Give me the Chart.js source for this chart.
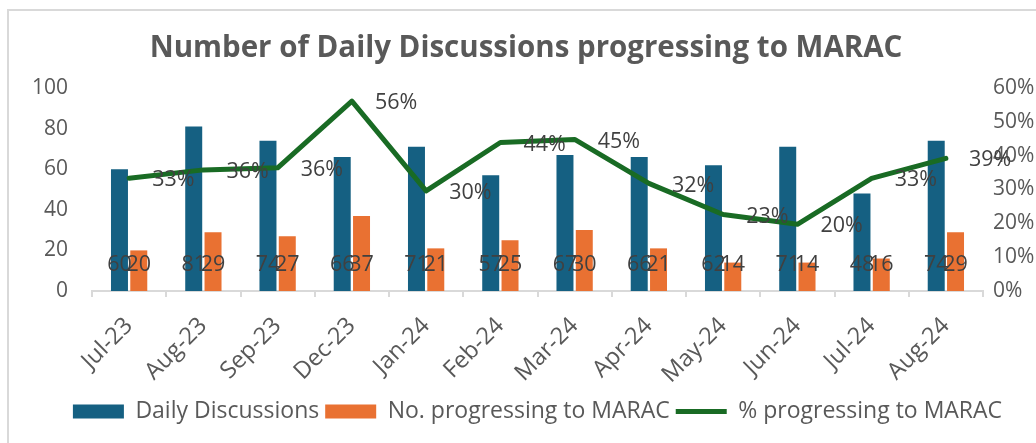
<!DOCTYPE html>
<html>
<head>
<meta charset="utf-8">
<script src="https://cdn.jsdelivr.net/npm/chart.js@4.4.1/dist/chart.umd.min.js"></script>
<style>
  body { margin: 0; background: #fff; }
  #wrap { position: relative; width: 1036px; height: 443px; overflow: hidden; }
  #frame { position: absolute; left: 7px; top: 9px; width: 1100px; height: 500px;
           border-left: 2px solid #d9d9d9; border-top: 2px solid #d9d9d9; }
  canvas { position: absolute; left: 0; top: 0; }
</style>
</head>
<body>
<div id="wrap">
  <div id="frame"></div>
  <canvas id="chart" width="1036" height="443"></canvas>
</div>
<script>
var months = ["Jul-23", "Aug-23", "Sep-23", "Dec-23", "Jan-24", "Feb-24", "Mar-24", "Apr-24", "May-24", "Jun-24", "Jul-24", "Aug-24"];
var dailyDiscussions = [60, 81, 74, 66, 71, 57, 67, 66, 62, 71, 48, 74];
var progressing = [20, 29, 27, 37, 21, 25, 30, 21, 14, 14, 16, 29];
var pctProgressing = [33.3, 35.8, 36.4, 56.1, 29.6, 43.9, 44.8, 31.8, 22.6, 19.7, 33.3, 39.2];

var blue = "#156082";
var orange = "#E97132";
var green = "#196B24";
var fontName = "'Open Sans', sans-serif";

// data labels, no plugin available so draw them here
var labelPlugin = {
    id: "labels",
    afterLayout: function(chart) {
        // centre the legend under the plot area like excel does
        var lg = chart.legend;
        var shift = (chart.chartArea.left + chart.chartArea.right) / 2 - (lg.left + lg.right) / 2;
        lg.left += shift;
        lg.right += shift;
    },
    afterDatasetsDraw: function(chart) {
        var ctx = chart.ctx;
        ctx.save();
        ctx.font = "21.5px " + fontName;
        ctx.fillStyle = "#404040";
        ctx.textBaseline = "middle";
        [0, 1].forEach(function(i) {
            var meta = chart.getDatasetMeta(i);
            var vals = chart.data.datasets[i].data;
            ctx.textAlign = "center";
            meta.data.forEach(function(bar, j) {
                ctx.fillText(String(vals[j]), bar.x, bar.base - 26);
            });
        });
        var lineMeta = chart.getDatasetMeta(2);
        ctx.textAlign = "left";
        lineMeta.data.forEach(function(pt, j) {
            ctx.fillText(Math.round(pctProgressing[j]) + "%", pt.x + 23, pt.y + 2);
        });
        ctx.restore();
    }
};

var chart = new Chart(document.getElementById("chart"), {
    type: "bar",
    data: {
        labels: months,
        datasets: [
            {
                label: "Daily Discussions",
                data: dailyDiscussions,
                backgroundColor: blue,
                yAxisID: "y",
                order: 1,
                categoryPercentage: 0.52,
                barPercentage: 0.88
            },
            {
                label: "No. progressing to MARAC",
                data: progressing,
                backgroundColor: orange,
                yAxisID: "y",
                order: 2,
                categoryPercentage: 0.52,
                barPercentage: 0.88
            },
            {
                type: "line",
                label: "% progressing to MARAC",
                data: pctProgressing,
                borderColor: green,
                backgroundColor: green,
                borderWidth: 5,
                borderCapStyle: "round",
                borderJoinStyle: "round",
                pointRadius: 0,
                tension: 0,
                yAxisID: "y1",
                order: 0
            }
        ]
    },
    options: {
        responsive: false,
        animation: false,
        devicePixelRatio: 1,
        layout: { padding: { left: 16, right: 0, top: 0, bottom: 10 } },
        plugins: {
            title: {
                display: true,
                text: "Number of Daily Discussions progressing to MARAC",
                color: "#595959",
                font: { family: fontName, size: 29.5, weight: "bold" },
                padding: { top: 30.5, bottom: 22.1 }
            },
            legend: {
                position: "bottom",
                labels: {
                    color: "#595959",
                    font: { family: fontName, size: 23 },
                    usePointStyle: true,
                    pointStyleWidth: 51,
                    boxHeight: 14,
                    padding: 6,
                    sort: function(a, b) { return a.datasetIndex - b.datasetIndex; },
                    generateLabels: function(chart) {
                        var items = Chart.defaults.plugins.legend.labels.generateLabels(chart);
                        items.forEach(function(it) {
                            if (it.datasetIndex === 2) {
                                it.pointStyle = "line";
                                it.lineWidth = 5;
                                it.strokeStyle = green;
                            } else {
                                it.pointStyle = "rect";
                                it.lineWidth = 0;
                            }
                        });
                        return items;
                    }
                }
            },
            tooltip: { enabled: false }
        },
        scales: {
            x: {
                afterFit: function(s) { s.height = 103; },
                grid: { display: true, drawOnChartArea: false, drawTicks: true, tickLength: 6, color: "#d9d9d9", lineWidth: 2 },
                border: { display: true, color: "#d9d9d9", width: 2 },
                ticks: {
                    color: "#595959",
                    font: { family: fontName, size: 23.5 },
                    minRotation: 45,
                    maxRotation: 45,
                    padding: 15
                }
            },
            y: {
                position: "left",
                min: 0,
                max: 100,
                afterFit: function(s) { s.width = 76; },
                grid: { display: false, drawTicks: false },
                border: { display: false },
                ticks: {
                    stepSize: 20,
                    color: "#595959",
                    font: { family: fontName, size: 21 },
                    padding: 24
                }
            },
            y1: {
                position: "right",
                min: 0,
                max: 60,
                afterFit: function(s) { s.width = 53; },
                grid: { display: false, drawTicks: false },
                border: { display: false },
                ticks: {
                    stepSize: 10,
                    color: "#595959",
                    font: { family: fontName, size: 21 },
                    padding: 10,
                    callback: function(v) { return v + "%"; }
                }
            }
        }
    },
    plugins: [labelPlugin]
});
</script>
</body>
</html>
